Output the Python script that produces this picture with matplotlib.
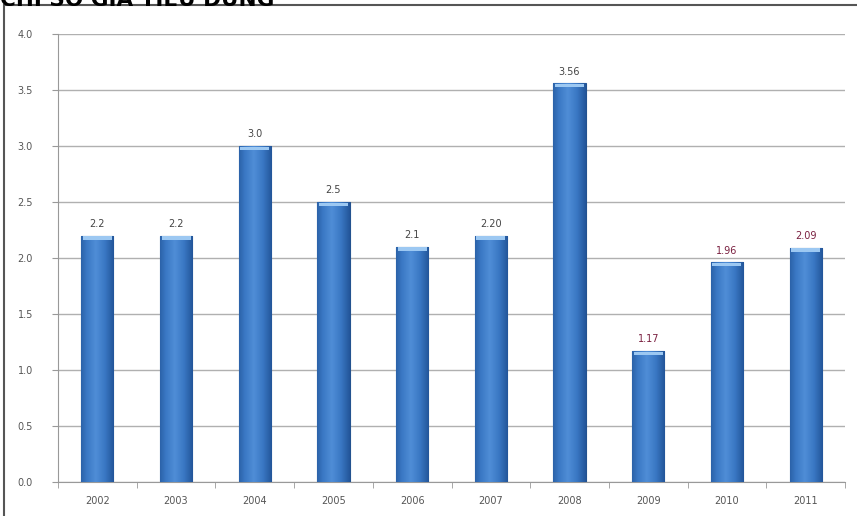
import numpy as np
import matplotlib.pyplot as plt
from matplotlib.patches import Rectangle
from matplotlib.colors import LinearSegmentedColormap

# du lieu
years = ['2002', '2003', '2004', '2005', '2006', '2007', '2008', '2009', '2010', '2011']
values = [2.2, 2.2, 3.0, 2.5, 2.1, 2.2, 3.56, 1.17, 1.96, 2.09]
labels = ['2.2', '2.2', '3.0', '2.5', '2.1', '2.20', '3.56', '1.17', '1.96', '2.09']
label_colors = ['#444444'] * 7 + ['#7a2040'] * 3
yticks = [0.0, 0.5, 1.0, 1.5, 2.0, 2.5, 3.0, 3.5, 4.0]

fig = plt.figure(figsize=(8.57, 5.16), dpi=100)
ax = fig.add_axes([58 / 857, 1 - 482 / 516, 787 / 857, 448 / 516])

x = np.arange(len(years))
bars = ax.bar(x, values, width=0.41, color='#3a78c4', edgecolor='#23528f', linewidth=0.8, zorder=3)

# gradient ngang cho cot
grad = np.linspace(0, 1, 64)
grad = 1 - np.abs(grad - 0.45) * 1.6
grad = np.clip(grad, 0, 1).reshape(1, -1)
cmap = LinearSegmentedColormap.from_list('b', ['#23569a', '#3a78c4', '#4f8dd6'])
for b in bars:
    x0, w, h = b.get_x(), b.get_width(), b.get_height()
    im = ax.imshow(grad, cmap=cmap, extent=[x0, x0 + w, 0, h], aspect='auto', zorder=3.5)
    im.set_clip_path(b)
    # nap sang phia tren
    ax.add_patch(Rectangle((x0 + w * 0.05, h - 0.035), w * 0.9, 0.03, color='#9cc8f2', zorder=4, lw=0))

for xi, v, lab, c in zip(x, values, labels, label_colors):
    ax.text(xi, v + 0.06, lab, ha='center', va='bottom', fontsize=7, color=c)

ax.set_xlim(-0.5, len(years) - 0.5)
ax.set_ylim(0, 4.0)
ax.set_yticks(yticks)
ax.set_yticklabels(['%.1f' % t for t in yticks], fontsize=7, color='#555555')
ax.set_xticks(x)
ax.set_xticklabels(years, fontsize=7, color='#555555')
ax.tick_params(axis='x', length=0, pad=10)
ax.tick_params(axis='y', length=4, color='#999999', pad=14)
ax.set_xticks(np.arange(-0.5, len(years)), minor=True)
ax.tick_params(axis='x', which='minor', length=4, color='#999999')
ax.yaxis.grid(True, color='#b0b0b0', linewidth=1, zorder=0)
ax.set_axisbelow(True)
for s in ['top', 'right']:
    ax.spines[s].set_visible(False)
ax.spines['left'].set_color('#999999')
ax.spines['bottom'].set_color('#999999')

# khung vien
fig.patches.append(Rectangle((4 / 857, -0.01), 1.0, 1 - 5 / 516 + 0.01, transform=fig.transFigure,
                             fill=False, edgecolor='#555555', linewidth=1.5))

fig.text(0.0, 1 - 6 / 516, 'CHỈ SỐ GIÁ TIÊU DÙNG', fontsize=15.5, fontweight='bold', ha='left', va='baseline')

fig.savefig('out.png', dpi=100)
